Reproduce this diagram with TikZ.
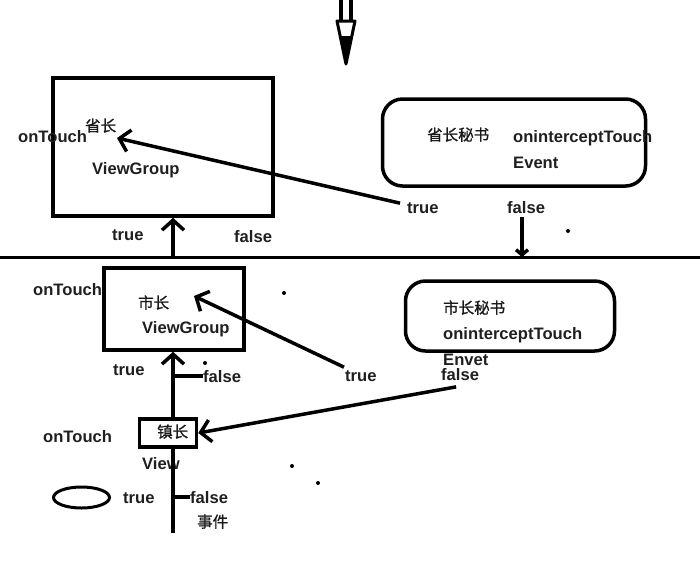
\documentclass[tikz,border=0pt]{standalone}
\usepackage{fontspec}
\setmainfont{Liberation Sans}
\newfontfamily\cjk[FakeBold=1]{Noto Sans CJK SC}
\usetikzlibrary{arrows.meta,shapes.geometric}
\begin{document}
\begin{tikzpicture}[x=1pt,y=-1pt,
  box/.style={draw, line width=3.5pt, inner sep=0pt},
  rbox/.style={box, rounded corners=20pt},
  lbl/.style={font=\fontsize{16.6}{19}\selectfont\bfseries, text=black!88, inner sep=0pt, anchor=base west},
  zh/.style={font=\cjk\fontsize{15.5}{18}\selectfont, text=black!90, inner sep=0pt, anchor=base west},
  wire/.style={line width=3.5pt},
  openarrow/.style={wire, -{Straight Barb[length=10pt,width=22pt]}},
  smallarrow/.style={wire, -{Straight Barb[length=5pt,width=12pt]}},
  speck/.style={circle, fill=black, inner sep=0pt, minimum size=4pt},
]
\useasboundingbox (0,0) rectangle (700,566);

% top arrow
\draw[line width=4pt] (340.5,0) -- (340.5,21) (350.5,0) -- (350.5,21);
\draw[line width=3pt, line join=round] (337,21) -- (355,21) -- (346,64) -- cycle;
\fill (340,36) -- (352,36) -- (346,64) -- cycle;

% boxes
\node[box, minimum width=220pt, minimum height=138pt] (b1) at (163,147) {};
\node[rbox, minimum width=263pt, minimum height=87pt] (b2) at (514,142.5) {};
\node[box, minimum width=140pt, minimum height=82pt] (b3) at (174,309) {};
\node[rbox, minimum width=209pt, minimum height=70pt] (b4) at (510,316) {};
\node[box, minimum width=57pt, minimum height=28pt] (b5) at (168,433) {};
\node[draw, ellipse, line width=3pt, minimum width=56pt, minimum height=21pt, inner sep=0pt] (el) at (81.5,497.5) {};

% labels
\node[lbl] (ot1) at (18,142.5) {onTouch};
\node[zh]  (sz)  at (85,131.5) {省长};
\node[lbl] (vg1) at (92,174.5) {ViewGroup};
\node[lbl] (ta)  at (112,240.5) {true};
\node[lbl] (fa)  at (234,242.5) {false};
\node[zh]  (szm) at (427,140.5) {省长秘书};
\node[lbl] (oi1) at (513,142.5) {oninterceptTouch};
\node[lbl] (ev1) at (513,168.5) {Event};
\node[lbl] (tb)  at (407,213.5) {true};
\node[lbl] (fb)  at (507,213.5) {false};

\node[lbl] (ot2) at (33,295.5) {onTouch};
\node[zh]  (shz) at (138,308.5) {市长};
\node[lbl] (vg2) at (142,333.5) {ViewGroup};
\node[zh]  (shm) at (443,313.5) {市长秘书};
\node[lbl] (oi2) at (443,339.5) {oninterceptTouch};
\node[lbl] (ev2) at (443,365.5) {Envet};
\node[lbl] (fc)  at (441,380.5) {false};
\node[lbl] (tc)  at (345,381.5) {true};
\node[lbl] (td)  at (113,375.5) {true};
\node[lbl] (fd)  at (203,382.5) {false};

\node[zh]  (zz)  at (157,437.5) {镇长};
\node[lbl] (ot3) at (43,442.5) {onTouch};
\node[lbl] (vw)  at (142,469.5) {View};
\node[lbl] (te)  at (123,503.5) {true};
\node[lbl] (fe)  at (190,503.5) {false};
\node[zh]  (sj)  at (197,527.5) {事件};

% coordinates
\coordinate (hl) at (0,257);
\coordinate (hr) at (700,257);
\coordinate (q0) at (173,257);
\coordinate (q1) at (522,257);
\coordinate (p1) at (117,138);
\coordinate (p2) at (194,296);
\coordinate (br1) at (173,376);
\coordinate (br2) at (173,497);
\coordinate (bot) at (173,533);

% connectors
\draw[line width=3pt] (hl) -- (hr);
\draw[openarrow] ([shift={(-7,-5)}]tb.west) -- (p1);
\draw[smallarrow] (fb.south -| q1) ++(0,3) -- (q1);
\draw[openarrow] (q0) -- (q0 |- b1.south);
\draw[openarrow] ([shift={(-1,-9)}]tc.west) -- (p2);
\draw[openarrow] (b5.north -| q0) -- (b3.south -| q0);
\draw[wire] (br1) -- (br1 -| fd.west);
\draw[openarrow] ([shift={(-4,6)}]fc.south) -- (b5.east);
\draw[wire] (b5.south -| q0) -- (bot);
\draw[wire] (br2) -- (br2 -| fe.west);

% specks
\node[speck] (d1) at (568,231) {};
\node[speck] (d2) at (284,293) {};
\node[speck] (d3) at (205,363) {};
\node[speck] (d4) at (292,466) {};
\node[speck] (d5) at (318,483) {};
\end{tikzpicture}
\end{document}
